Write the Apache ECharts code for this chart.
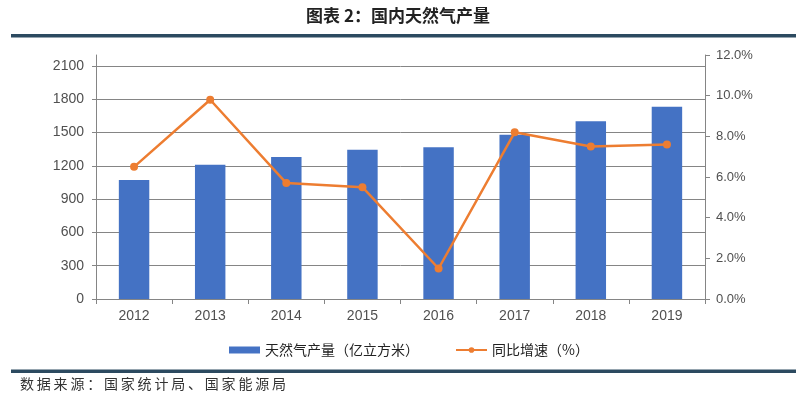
<!DOCTYPE html>
<html>
<head>
<meta charset="utf-8">
<script src="https://cdn.jsdelivr.net/npm/echarts@6/dist/echarts.min.js"></script>
<style>html,body{margin:0;padding:0;background:#fff;}#c{width:796px;height:397px;}</style>
</head>
<body>
<div id="c"></div>
<script>
var categories = ['2012','2013','2014','2015','2016','2017','2018','2019'];
var production = [1072, 1209, 1280, 1346, 1368, 1480, 1603, 1733];
var growth = [6.5, 9.8, 5.7, 5.5, 1.5, 8.2, 7.5, 7.6];
var leftTicks = {min: 0, max: 2100, interval: 300};
var rightTicks = {min: 0, max: 12, interval: 2};
var titleText = '图表 2：国内天然气产量';
var sourceText = '数据来源：国家统计局、国家能源局';
var barName = '天然气产量（亿立方米）';
var lineName = '同比增速（%）';

var font = '"Liberation Sans", Arial, "Noto Sans CJK SC", sans-serif';
var cjk = '"Noto Sans CJK SC", sans-serif';
var grey = '#858585';
var labelColor = '#505050';

var chart = echarts.init(document.getElementById('c'), null, {renderer: 'canvas'});
chart.setOption({
  backgroundColor: '#fff',
  animation: false,
  graphic: [
    {type: 'text', left: 'center', top: 7, style: {text: titleText, font: 'bold 17px ' + cjk, fill: '#222'}},
    {type: 'rect', shape: {x: 11, y: 34, width: 785, height: 3.5}, style: {fill: '#2C4A60'}},
    {type: 'rect', shape: {x: 11, y: 369.5, width: 785, height: 3.5}, style: {fill: '#2C4A60'}},
    {type: 'text', left: 20, top: 377, style: {text: sourceText.split('').join('\u2009'), font: '14px ' + cjk, fill: '#333'}}
  ],
  legend: {
    left: 224, top: 338, itemGap: 36, itemWidth: 31, itemHeight: 7,
    textStyle: {fontFamily: cjk, fontSize: 14, color: '#222'},
    data: [{name: barName, icon: 'rect'}, {name: lineName}]
  },
  grid: [
    {left: 96, right: 91, top: 66, bottom: 98, containLabel: false},
    {left: 96, right: 91, top: 55, bottom: 98, containLabel: false}
  ],
  xAxis: [
    {type: 'category', gridIndex: 0, data: categories,
     axisLine: {lineStyle: {color: grey, width: 1}},
     axisTick: {show: true, alignWithLabel: false, length: 5, lineStyle: {color: grey}},
     axisLabel: {color: labelColor, fontFamily: font, fontSize: 14, margin: 10}},
    {type: 'category', gridIndex: 1, data: categories, show: false}
  ],
  yAxis: [
    {type: 'value', gridIndex: 0, position: 'left', min: leftTicks.min, max: leftTicks.max, interval: leftTicks.interval,
     axisLine: {show: true, lineStyle: {color: grey}},
     axisTick: {show: true, length: 4, lineStyle: {color: grey}},
     splitLine: {show: true, lineStyle: {color: grey, width: 1}},
     axisLabel: {color: labelColor, fontFamily: font, fontSize: 14, margin: 12,
       formatter: function (v) { return String(v); }}},
    {type: 'value', gridIndex: 1, position: 'left', min: 0, max: 1,
     axisLine: {show: true, lineStyle: {color: grey}},
     axisTick: {show: false}, axisLabel: {show: false}, splitLine: {show: false}},
    {type: 'value', gridIndex: 1, position: 'right', min: rightTicks.min, max: rightTicks.max, interval: rightTicks.interval,
     axisLine: {show: true, lineStyle: {color: grey}},
     axisTick: {show: true, length: 5, lineStyle: {color: grey}},
     splitLine: {show: false},
     axisLabel: {color: labelColor, fontFamily: font, fontSize: 13, margin: 11,
       formatter: function (v) { return v.toFixed(1) + '%'; }}}
  ],
  series: [
    {name: barName, type: 'bar', xAxisIndex: 0, yAxisIndex: 0, data: production,
     barWidth: '40%', itemStyle: {color: '#4472C4'}},
    {name: lineName, type: 'line', xAxisIndex: 1, yAxisIndex: 2, data: growth,
     symbol: 'circle', symbolSize: 8, z: 5,
     lineStyle: {color: '#ED7D31', width: 2.5}, itemStyle: {color: '#ED7D31'}}
  ]
});
</script>
</body>
</html>
